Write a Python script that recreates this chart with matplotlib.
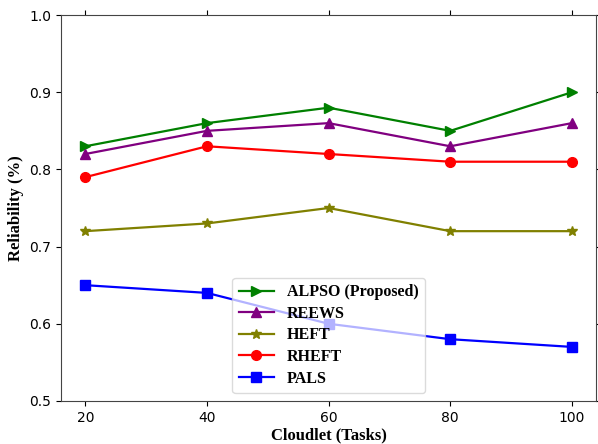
import numpy as np
import matplotlib.pyplot as plt

tasks = [20, 40, 60, 80, 100]
alpso = [0.83, 0.86, 0.88, 0.85, 0.90]
reews = [0.82, 0.85, 0.86, 0.83, 0.86]
heft = [0.72, 0.73, 0.75, 0.72, 0.72]
rheft = [0.79, 0.83, 0.82, 0.81, 0.81]
pals = [0.65, 0.64, 0.60, 0.58, 0.57]

series = [
    ("ALPSO (Proposed)", alpso, "green", ">"),
    ("REEWS", reews, "purple", "^"),
    ("HEFT", heft, "olive", "*"),
    ("RHEFT", rheft, "red", "o"),
    ("PALS", pals, "blue", "s"),
]

fig = plt.figure(figsize=(5.98, 4.44), dpi=100)
axis = fig.add_axes([0.102, 0.097, 0.895, 0.869])

for name, values, color, marker in series:
    axis.plot(tasks, values, color=color, marker=marker, linewidth=1.6,
              markersize=7, label=name)

axis.set_ylim(0.5, 1.0)
axis.set_xticks(tasks)
axis.set_yticks(np.arange(0.5, 1.01, 0.1))
axis.tick_params(labelsize=10, top=True, right=True)
axis.set_xlabel("Cloudlet (Tasks)", fontsize=12, fontweight="bold",
                family="Liberation Serif", labelpad=2)
axis.set_ylabel("Reliability (%)", fontsize=12, fontweight="bold",
                family="Liberation Serif")
for spine in axis.spines.values():
    spine.set_color("#444444")

axis.legend(loc="lower center", framealpha=0.7, handlelength=2.2,
            labelspacing=0.35,
            prop={"family": "Liberation Serif", "weight": "bold", "size": 11.5})

plt.savefig("out.png", dpi=100)
